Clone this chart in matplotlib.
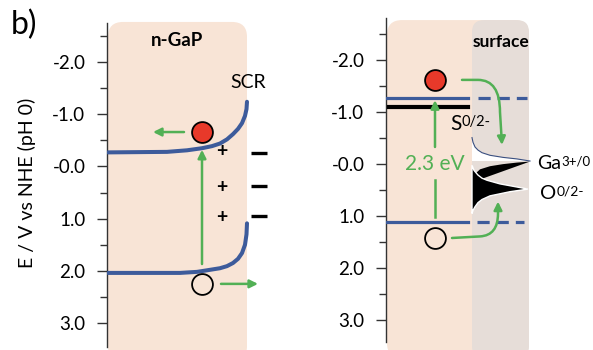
import numpy as np
import matplotlib
matplotlib.use('Agg')
import matplotlib.pyplot as plt
from matplotlib.patches import FancyBboxPatch, FancyArrowPatch
from matplotlib.path import Path

plt.rcParams['font.family'] = ['Lato', 'DejaVu Sans']

# axis ticks (E / V vs NHE)
major_ticks = [-2.0, -1.0, 0.0, 1.0, 2.0, 3.0]
tick_labels = ['-2.0', '-1.0', '-0.0', '1.0', '2.0', '3.0']
minor_ticks = [-2.5, -1.5, -0.5, 0.5, 1.5, 2.5]

# left panel: n-GaP bands with band bending (x in px from axis)
cb_x = [1, 60, 80, 95, 105, 113, 120, 126, 131, 135, 138, 139.5, 140]
cb_e = [-0.27, -0.28, -0.31, -0.35, -0.39, -0.44, -0.52, -0.62, -0.72, -0.83, -0.97, -1.10, -1.24]
vb_x = [1, 73, 90, 100, 113, 120, 126, 131, 135, 138, 139.5, 140]
vb_e = [2.04, 2.04, 2.02, 1.99, 1.95, 1.91, 1.85, 1.77, 1.66, 1.50, 1.30, 1.09]
electron_left = -0.66
hole_left = 2.25
plus_e = [-0.29, 0.41, 0.97]
minus_e = [-0.26, 0.37, 0.95]

# right panel: levels
cb_right = -1.27
s_level = -1.10
vb_right = 1.11
electron_right = -1.62
hole_right = 1.42
gap_label = '2.3 eV'

# surface DOS peaks (x in px from axis, E in V)
ga_top_x = [86, 87, 89, 92, 96, 104, 117, 131, 144]
ga_top_e = [-0.51, -0.42, -0.33, -0.27, -0.22, -0.17, -0.13, -0.10, -0.06]
ga_bot_x = [144, 131, 117, 104, 94, 89, 86]
ga_bot_e = [-0.05, -0.03, 0.0, 0.04, 0.10, 0.19, 0.35]
o_x = [86, 88, 92, 96, 101, 114, 131, 142, 124, 104, 96, 92, 89, 87, 86]
o_e = [0.02, 0.12, 0.21, 0.27, 0.31, 0.38, 0.44, 0.48, 0.53, 0.61, 0.68, 0.74, 0.82, 0.89, 0.95]

PEACH = '#f8e4d6'
GREY = '#e6ddd8'
BLUE = '#3d5b9b'
GREEN = '#52b055'
RED = '#e8392a'
AX = '#333333'

W, H = 593, 350
fig = plt.figure(figsize=(W / 100, H / 100), dpi=100)
ax1 = fig.add_axes([107 / W, 1 - 347 / H, 183 / W, (347 - 23) / H])
ax2 = fig.add_axes([386 / W, 1 - 342 / H, 207 / W, (342 - 18) / H])
ax1.set_xlim(0, 183)
ax1.set_ylim(3.46, -2.75)
ax2.set_xlim(0, 207)
ax2.set_ylim(3.42, -2.81)

for ax in (ax1, ax2):
    ax.patch.set_alpha(0)
    for s in ('top', 'right', 'bottom'):
        ax.spines[s].set_visible(False)
    ax.spines['left'].set_color(AX)
    ax.spines['left'].set_linewidth(1.0)
    ax.set_xticks([])
    ax.set_yticks(major_ticks)
    ax.set_yticklabels(tick_labels)
    ax.set_yticks(minor_ticks, minor=True)
    ax.tick_params(axis='y', which='major', direction='out', length=7.5, width=1.0,
                   color=AX, pad=8, labelsize=13.5)
    ax.tick_params(axis='y', which='minor', direction='out', length=5, width=1.0, color=AX)

ppu1 = 52.2
ppu2 = 52.0

# background boxes
ax1.add_patch(FancyBboxPatch((1, -2.77), 139, 6.5, boxstyle='round,pad=0,rounding_size=15',
                             mutation_aspect=1 / ppu1, fc=PEACH, ec='none', clip_on=False, zorder=0))
ax2.add_patch(FancyBboxPatch((1, -2.77), 142, 6.5, boxstyle='round,pad=0,rounding_size=15',
                             mutation_aspect=1 / ppu2, fc=PEACH, ec='none', clip_on=False, zorder=0))
ax2.add_patch(FancyBboxPatch((86, -2.77), 57, 6.5, boxstyle='round,pad=0,rounding_size=12',
                             mutation_aspect=1 / ppu2, fc=GREY, ec='none', clip_on=False, zorder=0.5))

# ---- left panel
ax1.plot(cb_x, cb_e, color=BLUE, lw=2.9, solid_capstyle='round', solid_joinstyle='round', zorder=3)
ax1.plot(vb_x, vb_e, color=BLUE, lw=2.9, solid_capstyle='round', solid_joinstyle='round', zorder=3)
ax1.plot([95], [electron_left], 'o', ms=15, mfc=RED, mec='black', mew=1.3, zorder=5)
ax1.plot([95], [hole_left], 'o', ms=15, mfc='none', mec='black', mew=1.3, zorder=5)

arrow_kw = dict(arrowstyle='-|>', color=GREEN, lw=1.8, mutation_scale=12, shrinkA=0, shrinkB=0)
ax1.annotate('', xy=(46, electron_left), xytext=(77, electron_left), arrowprops=arrow_kw)
ax1.annotate('', xy=(95, -0.32), xytext=(95, 1.87), arrowprops=arrow_kw)
ax1.annotate('', xy=(151, hole_left), xytext=(114, hole_left), arrowprops=arrow_kw,
             annotation_clip=False)

for e in plus_e:
    ax1.text(115, e, '+', ha='center', va='center', fontsize=14, fontweight='bold')
ax1.plot([152] * len(minus_e), minus_e, ls='none', marker='_', ms=12, mew=2.4,
         color='black', clip_on=False)

ax1.text(70, -2.42, 'n-GaP', ha='center', va='center', fontsize=13.5, fontweight='bold')
ax1.text(141, -1.6, 'SCR', ha='center', va='center', fontsize=14)

fig.text(11 / W, 1 - 25 / H, 'b)', fontsize=23, va='center', ha='left')
fig.text(27 / W, 1 - 183 / H, 'E / V vs NHE (pH 0)', rotation=90, fontsize=14,
         ha='center', va='center')

# ---- right panel
ax2.plot([1, 82], [cb_right, cb_right], color=BLUE, lw=2.3, zorder=3)
ax2.plot([92, 141], [cb_right, cb_right], color=BLUE, lw=2.3, dashes=(3.8, 2.2), zorder=3)
ax2.plot([3, 82], [s_level, s_level], color='black', lw=3.0, zorder=3)
ax2.plot([1, 82], [vb_right, vb_right], color=BLUE, lw=2.3, zorder=3)
ax2.plot([91, 138], [vb_right, vb_right], color=BLUE, lw=2.3, dashes=(3.8, 2.2), zorder=3)

ax2.plot([49], [electron_right], 'o', ms=15, mfc=RED, mec='black', mew=1.3, zorder=5)
ax2.plot([49], [hole_right], 'o', ms=15, mfc='none', mec='black', mew=1.3, zorder=5)

ax2.annotate('', xy=(49, -1.23), xytext=(49, -0.33), arrowprops=arrow_kw)
ax2.plot([49, 49], [0.31, 1.02], color=GREEN, lw=1.8)
ax2.text(49, 0.0, gap_label, color=GREEN, ha='center', va='center', fontsize=15)

# surface DOS
ax2.fill(ga_bot_x, ga_bot_e, color='black', lw=0, zorder=2)
ax2.fill(ga_top_x + [86], ga_top_e + [-0.06], color='white', lw=0, zorder=2)
ax2.plot(ga_top_x, ga_top_e, color='#3a4f80', lw=0.8, zorder=2.1)
ax2.fill(o_x, o_e, fc='black', ec='white', lw=1.0, zorder=2.2)

p_up = Path([(76, electron_right), (92, electron_right), (114, electron_right), (114, -1.0), (116, -0.37)],
            [Path.MOVETO, Path.LINETO, Path.CURVE3, Path.CURVE3, Path.LINETO])
ax2.add_patch(FancyArrowPatch(path=p_up, arrowstyle='-|>', color=GREEN, lw=1.8,
                              mutation_scale=12, zorder=4))
p_dn = Path([(66, hole_right), (94, 1.39), (112, 1.37), (112, 0.95), (112, 0.72)],
            [Path.MOVETO, Path.LINETO, Path.CURVE3, Path.CURVE3, Path.LINETO])
ax2.add_patch(FancyArrowPatch(path=p_dn, arrowstyle='-|>', color=GREEN, lw=1.8,
                              mutation_scale=12, zorder=4))

ax2.text(115, -2.35, 'surface', ha='center', va='center', fontsize=12.5, fontweight='bold')


def species(x, e, base, sup, size=15, sup_size=10.5):
    t = ax2.text(x, e, base, ha='left', va='center', fontsize=size, clip_on=False)
    ax2.annotate(sup, xy=(1.0, 0.95), xycoords=t, ha='left', va='top', fontsize=sup_size,
                 annotation_clip=False)


species(64, -0.78, 'S', '0/2-')
species(151, -0.02, 'Ga', '3+/0', size=14, sup_size=9.5)
species(154, 0.56, 'O', '0/2-', size=14.5, sup_size=10)

fig.savefig('out.png', dpi=100)
